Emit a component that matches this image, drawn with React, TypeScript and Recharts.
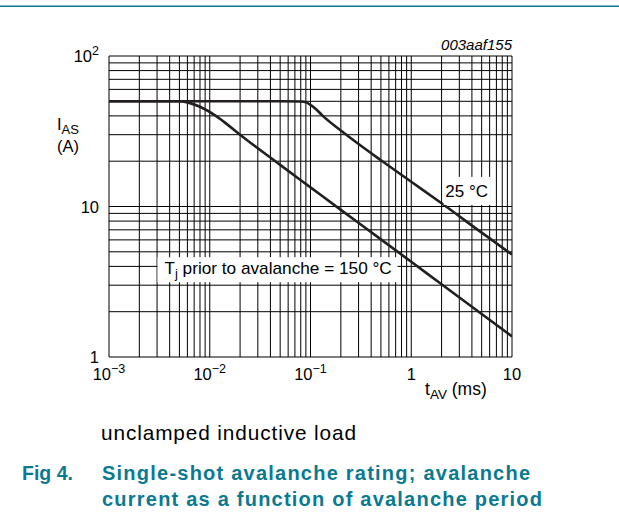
import React from 'react';
import { LineChart, Line, XAxis, YAxis, CartesianGrid, ReferenceDot } from 'recharts';

const FONT = '"Liberation Sans", Arial, Helvetica, sans-serif';
const TEAL = '#0b7a90';
const INK = '#231f20';

// avalanche period t_AV (ms) / avalanche current I_AS (A)
const t25 = [0.001, 0.01, 0.05, 0.08, 0.092, 0.1, 0.115, 0.13, 0.2, 0.3, 0.5, 1, 2, 5, 10];
const i25 = [50, 50, 50, 49.8, 49, 47.3, 44, 40.5, 32, 26, 20.3, 14.6, 10.5, 6.7, 4.8];

const t150 = [0.001, 0.003, 0.005, 0.006, 0.008, 0.0117, 0.015, 0.02, 0.05, 0.1, 0.2, 0.5, 1, 2, 5, 10];
const i150 = [50, 50, 50, 49.2, 46, 39.7, 35, 30, 18.9, 13.4, 9.5, 6.05, 4.29, 3.04, 1.93, 1.37];

// grid: every 1..9 step of each decade
const xDecades = [0.001, 0.01, 0.1, 1];
const yDecades = [1, 10];
const steps = [1, 2, 3, 4, 5, 6, 7, 8, 9];
const xGrid = [...xDecades.flatMap((d) => steps.map((m) => +(d * m).toPrecision(3))), 10];
const yGrid = [...yDecades.flatMap((d) => steps.map((m) => d * m)), 100];

// tick labels (base, superscript)
const xTickLabels: Record<string, [string, string]> = {
  '0.001': ['10', '\u22123'],
  '0.01': ['10', '\u22122'],
  '0.1': ['10', '\u22121'],
  '1': ['1', ''],
  '10': ['10', ''],
};
const yTickLabels: Record<string, [string, string]> = {
  '1': ['1', ''],
  '10': ['10', ''],
  '100': ['10', '2'],
};

const data25 = t25.map((t, k) => ({ t, i: i25[k] }));
const data150 = t150.map((t, k) => ({ t, i: i150[k] }));

const XTick = (props: any) => {
  const { x, y, payload } = props;
  const lab = xTickLabels[String(payload.value)];
  if (!lab) return <g />;
  return (
    <text x={x} y={y + 15} textAnchor="middle" fontFamily={FONT} fontSize={16.5} fill="#000">
      {lab[0]}
      {lab[1] && <tspan dy={-7} fontSize={12.5}>{lab[1]}</tspan>}
    </text>
  );
};

const YTick = (props: any) => {
  const { x, y, payload } = props;
  const lab = yTickLabels[String(payload.value)];
  if (!lab) return <g />;
  return (
    <text x={x - 2} y={y + 6} textAnchor="end" fontFamily={FONT} fontSize={16.5} fill="#000">
      {lab[0]}
      {lab[1] && <tspan dy={-7} fontSize={12.5}>{lab[1]}</tspan>}
    </text>
  );
};

const TjLabel = (props: any) => {
  const { cx, cy } = props;
  return (
    <g>
      <rect x={cx - 119} y={cy - 10} width={240} height={25} fill="#fff" />
      <text x={cx - 112} y={cy + 7} fontFamily={FONT} fontSize={17} fill="#000">
        T<tspan dy={4} fontSize={13}>j</tspan>
        <tspan dy={-4} textLength={214} lengthAdjust="spacingAndGlyphs">
          {' prior to avalanche = 150 °C'}
        </tspan>
      </text>
    </g>
  );
};

const T25Label = (props: any) => {
  const { cx, cy } = props;
  return (
    <g>
      <rect x={cx - 23} y={cy - 14} width={47} height={28} fill="#fff" />
      <text x={cx} y={cy + 6} textAnchor="middle" fontFamily={FONT} fontSize={17} fill="#000">
        25 °C
      </text>
    </g>
  );
};

export default function App() {
  return (
    <div style={{ position: 'absolute', left: 0, top: 0, width: 619, height: 521, background: '#fff' }}>
      <LineChart
        width={619}
        height={521}
        margin={{ top: 56, right: 107, bottom: 134, left: 9 }}
        style={{ position: 'absolute', left: 0, top: 0 }}
      >
        <CartesianGrid stroke="#000" strokeWidth={1} />
        <XAxis
          type="number"
          dataKey="t"
          scale="log"
          domain={[0.001, 10]}
          ticks={xGrid}
          allowDataOverflow
          interval={0}
          height={30}
          axisLine={false}
          tickLine={false}
          tick={<XTick />}
        />
        <YAxis
          type="number"
          dataKey="i"
          scale="log"
          domain={[1, 100]}
          ticks={yGrid}
          allowDataOverflow
          interval={0}
          width={100}
          axisLine={false}
          tickLine={false}
          tick={<YTick />}
        />
        <Line
          data={data25}
          dataKey="i"
          type="monotone"
          stroke={INK}
          strokeWidth={2.6}
          dot={false}
          isAnimationActive={false}
        />
        <Line
          data={data150}
          dataKey="i"
          type="monotone"
          stroke={INK}
          strokeWidth={2.6}
          dot={false}
          isAnimationActive={false}
        />
        <ReferenceDot x={0.046} y={3.95} r={0} shape={<TjLabel />} />
        <ReferenceDot x={3.55} y={12.7} r={0} shape={<T25Label />} />
      </LineChart>
      <svg
        width={619}
        height={521}
        style={{ position: 'absolute', left: 0, top: 0, pointerEvents: 'none' }}
        fontFamily={FONT}
      >
        <line x1={0} x2={619} y1={6.3} y2={6.3} stroke={TEAL} strokeWidth={1.6} />
        <text x={512} y={50} textAnchor="end" fontStyle="italic" fontSize={15} fill="#000">
          003aaf155
        </text>
        <text x={57} y={130} fontSize={16.5} fill="#000">
          I<tspan dy={4} fontSize={13}>AS</tspan>
        </text>
        <text x={57} y={152} fontSize={16.5} fill="#000">(A)</text>
        <text x={425} y={395} fontSize={17.5} fill="#000">
          t<tspan dy={4} fontSize={13.5}>AV</tspan>
          <tspan dy={-4}> (ms)</tspan>
        </text>
        <text x={101} y={440} fontSize={20.8} fill="#000" textLength={255} lengthAdjust="spacing">
          unclamped inductive load
        </text>
        <text x={22} y={480} fontSize={19.5} fontWeight="bold" fill={TEAL}>
          Fig 4.
        </text>
        <text x={102} y={480} fontSize={20} fontWeight="bold" fill={TEAL} textLength={428} lengthAdjust="spacing">
          Single-shot avalanche rating; avalanche
        </text>
        <text x={102} y={506} fontSize={20} fontWeight="bold" fill={TEAL} textLength={440} lengthAdjust="spacing">
          current as a function of avalanche period
        </text>
      </svg>
    </div>
  );
}
